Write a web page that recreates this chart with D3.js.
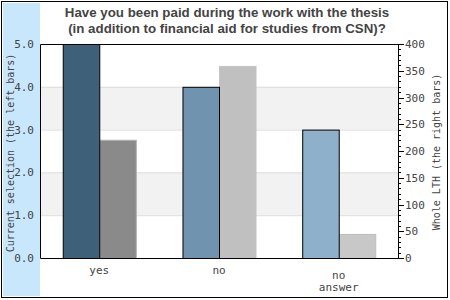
<!DOCTYPE html>
<html>
<head>
<meta charset="utf-8">
<script src="https://cdn.jsdelivr.net/npm/d3@7"></script>
<style>
  body { margin: 0; background: #fff; }
  text { font-family: "DejaVu Sans Mono", monospace; }
</style>
</head>
<body>
<script>
// dati del grafico
const categories = ["yes", "no", "no answer"];
const currentValues = [5.0, 4.0, 3.0];      // scala sinistra
const wholeValues = [221, 359, 45];         // scala destra
const leftTicks = [0, 1, 2, 3, 4, 5];
const rightTicks = [0, 50, 100, 150, 200, 250, 300, 350, 400];
const titleLines = ["Have you been paid during the work with the thesis",
  "(in addition to financial aid for studies from CSN)?"];

const blueFill = ["#3f6079", "#7093b0", "#8fb0cb"];
const grayFill = ["#8a8a8a", "#c0c0c0", "#c8c8c8"];
const grayStroke = ["#b0b0b0", "#c4c4c4", "#bcbcbc"];

const W = 450, H = 300;
const plot = { left: 40, top: 44, right: 398, bottom: 258 };

var svg = d3.select("body")
  .append("svg")
  .attr("width", W)
  .attr("height", H);

// pannello azzurro a sinistra
svg.append("rect")
  .attr("x", 3).attr("y", 3)
  .attr("width", 37).attr("height", 293)
  .attr("fill", "#c8e7fd");

// bordo esterno
svg.append("rect")
  .attr("x", 1.5).attr("y", 1.5)
  .attr("width", 446).attr("height", 296)
  .attr("fill", "none")
  .attr("stroke", "#000");

// titolo
svg.selectAll(".title")
  .data(titleLines)
  .enter().append("text")
  .attr("x", 227)
  .attr("y", (d, i) => 17 + i * 16)
  .attr("text-anchor", "middle")
  .style("font-family", "'Liberation Sans', Arial, sans-serif")
  .style("font-weight", "bold")
  .style("font-size", "13.3px")
  .attr("fill", "#444")
  .text(d => d);

var yLeft = d3.scaleLinear().domain([0, 5]).range([plot.bottom, plot.top]);
var yRight = d3.scaleLinear().domain([0, 400]).range([plot.bottom, plot.top]);
var x = d3.scaleBand().domain(categories)
  .range([plot.left, plot.right]).paddingInner(0.39).paddingOuter(0.19);

// fasce grigie
[[3, 4], [1, 2]].forEach(function (b) {
  svg.append("rect")
    .attr("x", plot.left).attr("y", yLeft(b[1]))
    .attr("width", plot.right - plot.left)
    .attr("height", yLeft(b[0]) - yLeft(b[1]))
    .attr("fill", "#f2f2f2");
});

// griglia
svg.selectAll(".grid")
  .data(leftTicks.filter(d => d > 0 && d < 5))
  .enter().append("line")
  .attr("x1", plot.left).attr("x2", plot.right)
  .attr("y1", d => yLeft(d) + 0.5).attr("y2", d => yLeft(d) + 0.5)
  .attr("stroke", "#dddddd");

// barre
var bw = x.bandwidth() / 2;
categories.forEach(function (c, i) {
  svg.append("rect")
    .attr("x", x(c) + bw + 0.5)
    .attr("y", yRight(wholeValues[i]) + 0.5)
    .attr("width", bw)
    .attr("height", plot.bottom - yRight(wholeValues[i]))
    .attr("fill", grayFill[i])
    .attr("stroke", grayStroke[i]);
  svg.append("rect")
    .attr("x", x(c) + 0.5)
    .attr("y", yLeft(currentValues[i]) + 0.5)
    .attr("width", bw)
    .attr("height", plot.bottom - yLeft(currentValues[i]))
    .attr("fill", blueFill[i])
    .attr("stroke", "#000");
});

// bordi dell'area
svg.append("path")
  .attr("d", "M" + (plot.left + 0.5) + "," + (plot.bottom + 0.5) +
    "V" + (plot.top + 0.5) + "H" + (plot.right + 0.5) +
    "V" + (plot.bottom + 0.5) + "H" + (plot.left + 0.5))
  .attr("fill", "none")
  .attr("stroke", "#000");

// asse sinistro
svg.selectAll(".lt")
  .data(leftTicks)
  .enter().append("text")
  .attr("x", 34)
  .attr("y", d => yLeft(d) + 4)
  .attr("text-anchor", "end")
  .style("font-size", "11px")
  .attr("fill", "#444")
  .text(d => d.toFixed(1));

// asse destro con tacche
var minor = d3.range(0, 401, 10);
svg.selectAll(".rtick")
  .data(minor)
  .enter().append("line")
  .attr("x1", plot.right)
  .attr("x2", d => plot.right + (d % 50 === 0 ? 6 : 3))
  .attr("y1", d => Math.round(yRight(d)) + 0.5)
  .attr("y2", d => Math.round(yRight(d)) + 0.5)
  .attr("stroke", "#000");

svg.selectAll(".rt")
  .data(rightTicks)
  .enter().append("text")
  .attr("x", 405)
  .attr("y", d => yRight(d) + 4)
  .style("font-size", "11px")
  .attr("fill", "#444")
  .text(d => d);

// titoli degli assi
svg.append("text")
  .attr("transform", "translate(14,153) rotate(-90)")
  .attr("text-anchor", "middle")
  .style("font-size", "10px")
  .attr("fill", "#444")
  .text("Current selection (the left bars)");

svg.append("text")
  .attr("transform", "translate(440,152) rotate(-90)")
  .attr("text-anchor", "middle")
  .style("font-size", "10px")
  .attr("fill", "#444")
  .text("Whole LTH (the right bars)");

// etichette categorie
categories.forEach(function (c) {
  var lines = c.split(" ");
  lines.forEach(function (l, j) {
    svg.append("text")
      .attr("x", x(c) + bw)
      .attr("y", lines.length > 1 ? 279 + j * 12 : 274)
      .attr("text-anchor", "middle")
      .style("font-size", "11px")
      .attr("fill", "#444")
      .text(l);
  });
});
</script>
</body>
</html>
